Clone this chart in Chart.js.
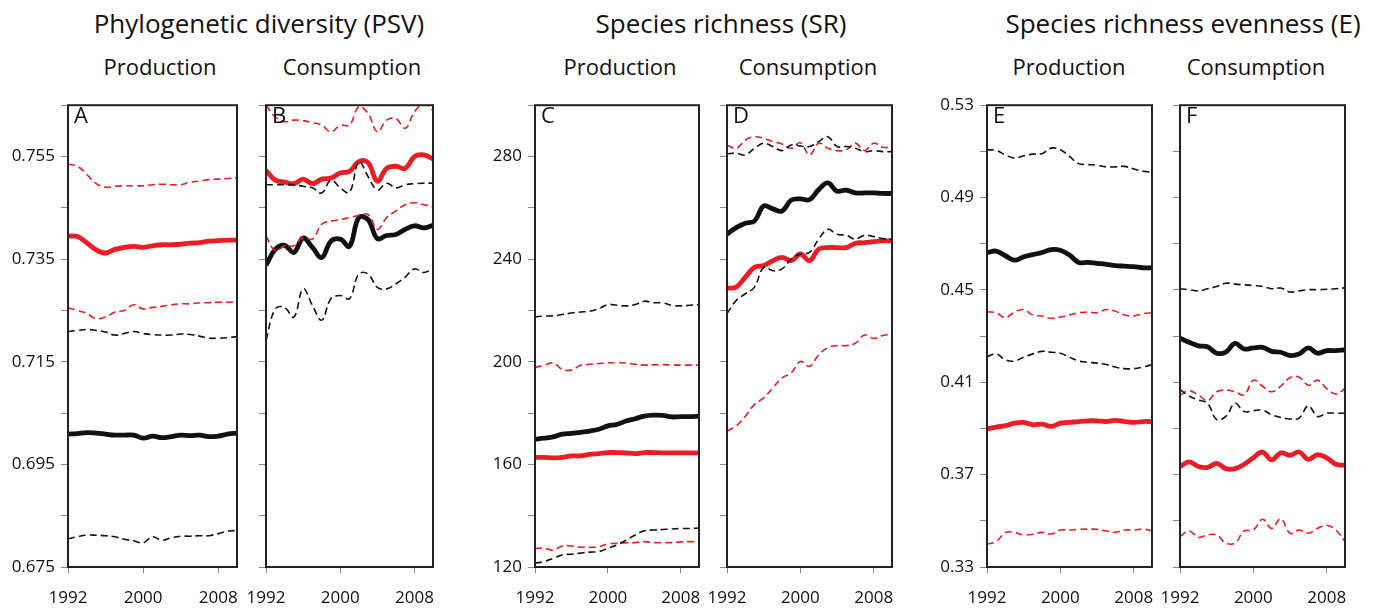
<!DOCTYPE html>
<html>
<head>
<meta charset="utf-8">
<script src="https://cdn.jsdelivr.net/npm/chart.js@4/dist/chart.umd.min.js"></script>
<style>
  body { margin: 0; background: #fff; font-family: "Open Sans", sans-serif; }
  #page { position: relative; width: 1374px; height: 608px; overflow: hidden; }
  .title, .sub { position: absolute; transform: translateX(-50%); white-space: nowrap; color: #111; }
  .title { font-size: 26px; top: 5px; }
  .sub { font-size: 22px; top: 51px; }
  .panel { position: absolute; }
</style>
</head>
<body>
<div id="page">
  <div class="title" style="left:259px">Phylogenetic diversity (PSV)</div>
  <div class="title" style="left:721px">Species richness (SR)</div>
  <div class="title" style="left:1183px">Species richness evenness (E)</div>
  <div class="sub" style="left:160px">Production</div>
  <div class="sub" style="left:352px">Consumption</div>
  <div class="sub" style="left:620px">Production</div>
  <div class="sub" style="left:808px">Consumption</div>
  <div class="sub" style="left:1069px">Production</div>
  <div class="sub" style="left:1256px">Consumption</div>
</div>
<script>
"use strict";

// --- data ---
const years = [1992, 1993, 1994, 1995, 1996, 1997, 1998, 1999, 2000, 2001, 2002, 2003, 2004, 2005, 2006, 2007, 2008, 2009, 2010];
const yearTicks = [1992, 2000, 2008];

const psvTicks = [0.675, 0.695, 0.715, 0.735, 0.755];
const srTicks = [120, 160, 200, 240, 280];
const eTicks = [0.33, 0.37, 0.41, 0.45, 0.49, 0.53];

// A - PSV production
const psvProdRedHi = [0.7535, 0.7531, 0.7515, 0.7497, 0.7490, 0.7492, 0.7493, 0.7493, 0.7493, 0.7495, 0.7496, 0.7495, 0.7495, 0.7500, 0.7502, 0.7505, 0.7506, 0.7507, 0.7508];
const psvProdRed = [0.7395, 0.7394, 0.7382, 0.7368, 0.7362, 0.7369, 0.7373, 0.7375, 0.7373, 0.7376, 0.7378, 0.7378, 0.7379, 0.7381, 0.7382, 0.7385, 0.7386, 0.7387, 0.7387];
const psvProdRedLo = [0.7255, 0.7250, 0.7244, 0.7234, 0.7237, 0.7247, 0.7250, 0.7261, 0.7253, 0.7256, 0.7258, 0.7261, 0.7263, 0.7263, 0.7265, 0.7265, 0.7266, 0.7266, 0.7266];
const psvProdBlackHi = [0.7209, 0.7211, 0.7213, 0.7211, 0.7208, 0.7202, 0.7205, 0.7209, 0.7205, 0.7203, 0.7202, 0.7202, 0.7204, 0.7203, 0.7200, 0.7196, 0.7196, 0.7197, 0.7199];
const psvProdBlack = [0.7009, 0.7010, 0.7012, 0.7011, 0.7009, 0.7007, 0.7007, 0.7007, 0.7001, 0.7005, 0.7002, 0.7004, 0.7007, 0.7006, 0.7007, 0.7004, 0.7005, 0.7009, 0.7011];
const psvProdBlackLo = [0.6805, 0.6809, 0.6812, 0.6812, 0.6811, 0.6809, 0.6804, 0.6801, 0.6797, 0.6809, 0.6802, 0.6807, 0.6810, 0.6810, 0.6811, 0.6811, 0.6815, 0.6820, 0.6821];

// B - PSV consumption
const psvConsRedHi = [0.7650, 0.7627, 0.7618, 0.7621, 0.7620, 0.7616, 0.7611, 0.7598, 0.7611, 0.7611, 0.7647, 0.7634, 0.7598, 0.7621, 0.7624, 0.7605, 0.7637, 0.7653, 0.7640];
const psvConsRed = [0.7523, 0.7504, 0.7500, 0.7497, 0.7506, 0.7497, 0.7506, 0.7508, 0.7518, 0.7521, 0.7540, 0.7538, 0.7502, 0.7527, 0.7531, 0.7527, 0.7550, 0.7553, 0.7545];
const psvConsBlackHi = [0.7495, 0.7495, 0.7495, 0.7495, 0.7492, 0.7489, 0.7479, 0.7504, 0.7489, 0.7480, 0.7540, 0.7511, 0.7485, 0.7498, 0.7489, 0.7495, 0.7497, 0.7498, 0.7498];
const psvConsRedLo = [0.7395, 0.7366, 0.7376, 0.7376, 0.7392, 0.7389, 0.7418, 0.7424, 0.7427, 0.7431, 0.7435, 0.7437, 0.7408, 0.7431, 0.7444, 0.7456, 0.7460, 0.7456, 0.7452];
const psvConsBlack = [0.7338, 0.7369, 0.7377, 0.7363, 0.7391, 0.7373, 0.7353, 0.7385, 0.7389, 0.7375, 0.7431, 0.7427, 0.7390, 0.7396, 0.7398, 0.7408, 0.7415, 0.7411, 0.7416];
const psvConsBlackLo = [0.7192, 0.7253, 0.7256, 0.7237, 0.7292, 0.7260, 0.7231, 0.7273, 0.7279, 0.7273, 0.7321, 0.7321, 0.7295, 0.7292, 0.7302, 0.7315, 0.7331, 0.7324, 0.7331];

// C - SR production
const srProdBlackHi = [217.5, 217.8, 217.9, 218.4, 219.0, 219.4, 219.7, 220.7, 222.3, 222.0, 221.8, 222.3, 223.6, 223.0, 223.0, 222.0, 221.8, 222.0, 222.3];
const srProdRedHi = [197.8, 198.6, 199.5, 197.0, 196.8, 198.6, 199.0, 199.3, 199.6, 199.6, 199.5, 199.0, 198.7, 198.8, 198.9, 198.7, 198.7, 198.7, 198.7];
const srProdBlack = [169.8, 170.2, 170.7, 171.8, 172.1, 172.5, 173.0, 173.7, 175.0, 175.6, 176.9, 177.8, 178.8, 179.2, 179.1, 178.5, 178.6, 178.6, 178.8];
const srProdRed = [162.7, 162.7, 162.5, 162.7, 163.3, 163.3, 163.9, 164.2, 164.6, 164.6, 164.5, 164.2, 164.6, 164.6, 164.5, 164.5, 164.5, 164.5, 164.5];
const srProdRedLo = [127.3, 127.3, 126.6, 128.2, 128.2, 127.7, 127.7, 127.9, 129.0, 129.2, 129.5, 129.5, 129.9, 129.5, 129.5, 129.5, 129.8, 129.9, 129.8];
const srProdBlackLo = [121.5, 122.1, 123.4, 124.7, 125.0, 125.4, 125.8, 126.0, 127.3, 128.6, 130.5, 132.5, 134.1, 134.4, 134.6, 134.8, 135.0, 135.0, 135.2];

// D - SR consumption
const srConsRedHi = [284.5, 283.2, 286.4, 287.7, 287.1, 285.8, 284.9, 283.2, 285.4, 280.6, 285.2, 283.2, 282.3, 282.6, 285.2, 282.3, 285.2, 283.6, 283.6];
const srConsBlackHi = [281.0, 281.3, 280.6, 283.2, 285.2, 283.9, 282.3, 284.5, 284.1, 283.9, 285.8, 287.7, 283.9, 283.9, 283.2, 281.9, 282.3, 281.9, 281.9];
const srConsBlack = [249.7, 252.3, 254.0, 254.9, 260.7, 259.6, 258.7, 263.0, 263.5, 263.2, 267.1, 269.7, 266.5, 266.9, 265.8, 265.8, 265.8, 265.6, 265.6];
const srConsRed = [228.7, 229.1, 233.0, 236.8, 237.5, 239.4, 240.7, 239.4, 242.0, 239.4, 243.9, 244.5, 244.5, 244.5, 246.2, 246.4, 246.8, 247.1, 247.1];
const srConsBlackLo = [218.8, 223.9, 226.5, 229.1, 236.8, 235.5, 236.2, 240.0, 242.0, 242.6, 247.8, 251.6, 249.7, 249.3, 247.8, 249.3, 248.8, 248.0, 247.8];
const srConsRedLo = [173.0, 175.0, 178.8, 183.4, 185.9, 189.8, 193.7, 195.6, 200.1, 198.2, 202.7, 205.5, 206.3, 206.3, 207.2, 210.4, 209.1, 210.2, 210.7];

// E - evenness production
const eProdBlackHi = [0.5107, 0.5104, 0.5085, 0.5071, 0.5081, 0.5088, 0.5090, 0.5114, 0.5107, 0.5078, 0.5047, 0.5043, 0.5040, 0.5033, 0.5033, 0.5035, 0.5024, 0.5014, 0.5010];
const eProdBlack = [0.4662, 0.4668, 0.4648, 0.4629, 0.4643, 0.4653, 0.4662, 0.4675, 0.4672, 0.4651, 0.4619, 0.4619, 0.4615, 0.4611, 0.4605, 0.4603, 0.4601, 0.4596, 0.4596];
const eProdRedHi = [0.4405, 0.4401, 0.4380, 0.4404, 0.4415, 0.4391, 0.4387, 0.4377, 0.4383, 0.4391, 0.4401, 0.4404, 0.4401, 0.4415, 0.4408, 0.4391, 0.4387, 0.4397, 0.4401];
const eProdBlackLo = [0.4211, 0.4223, 0.4197, 0.4192, 0.4209, 0.4223, 0.4234, 0.4230, 0.4226, 0.4209, 0.4192, 0.4187, 0.4183, 0.4177, 0.4166, 0.4159, 0.4159, 0.4166, 0.4176];
const eProdRed = [0.3898, 0.3906, 0.3912, 0.3923, 0.3926, 0.3916, 0.3919, 0.3909, 0.3923, 0.3926, 0.3930, 0.3933, 0.3933, 0.3930, 0.3935, 0.3930, 0.3926, 0.3930, 0.3930];
const eProdRedLo = [0.3399, 0.3410, 0.3449, 0.3450, 0.3439, 0.3442, 0.3450, 0.3443, 0.3460, 0.3460, 0.3463, 0.3464, 0.3463, 0.3456, 0.3450, 0.3460, 0.3460, 0.3464, 0.3457];

// F - evenness consumption
const eConsBlackHi = [0.4505, 0.4501, 0.4496, 0.4505, 0.4515, 0.4529, 0.4525, 0.4522, 0.4519, 0.4515, 0.4505, 0.4508, 0.4491, 0.4496, 0.4501, 0.4501, 0.4503, 0.4505, 0.4509];
const eConsBlack = [0.4291, 0.4273, 0.4258, 0.4254, 0.4226, 0.4231, 0.4268, 0.4244, 0.4249, 0.4251, 0.4234, 0.4230, 0.4216, 0.4223, 0.4249, 0.4226, 0.4237, 0.4237, 0.4241];
const eConsRedHi = [0.4045, 0.4063, 0.4045, 0.4020, 0.4059, 0.4066, 0.4059, 0.4045, 0.4109, 0.4083, 0.4059, 0.4083, 0.4120, 0.4122, 0.4087, 0.4109, 0.4073, 0.4049, 0.4073];
const eConsBlackLo = [0.4069, 0.4040, 0.4023, 0.4009, 0.3938, 0.3952, 0.4009, 0.3973, 0.3977, 0.3980, 0.3959, 0.3948, 0.3941, 0.3945, 0.3998, 0.3952, 0.3966, 0.3966, 0.3966];
const eConsRed = [0.3735, 0.3755, 0.3735, 0.3731, 0.3749, 0.3726, 0.3726, 0.3745, 0.3773, 0.3798, 0.3764, 0.3795, 0.3784, 0.3798, 0.3766, 0.3787, 0.3773, 0.3745, 0.3741];
const eConsRedLo = [0.3432, 0.3456, 0.3428, 0.3439, 0.3439, 0.3404, 0.3404, 0.3456, 0.3460, 0.3507, 0.3467, 0.3509, 0.3446, 0.3460, 0.3446, 0.3467, 0.3481, 0.3460, 0.3411];

// --- drawing ---
const RED = "#ec1c24";
const BLACK = "#111111";
const FONT = "'Open Sans', sans-serif";
const AXIS_W = 60, AXIS_H = 44, PAD_TOP = 12, PAD_RIGHT = 20;
const BOX_TOP = 101, BOX_BOTTOM = 567;

// frame round the plot area + panel letter
const boxPlugin = {
  id: "box",
  afterDraw: function (chart, args, opts) {
    const a = chart.chartArea;
    const ctx = chart.ctx;
    ctx.save();
    ctx.strokeStyle = "#222";
    ctx.lineWidth = 2;
    ctx.strokeRect(a.left, a.top, a.right - a.left, a.bottom - a.top);
    ctx.fillStyle = "#111";
    ctx.font = "22px " + FONT;
    ctx.textBaseline = "top";
    ctx.fillText(opts.letter, a.left + 6, a.top + 1);
    ctx.restore();
  }
};

function pts(vals) {
  return vals.map(function (v, i) { return { x: years[i], y: v }; });
}

function line(vals, color, thick) {
  return {
    data: pts(vals),
    borderColor: color,
    borderWidth: thick ? 4.8 : 1.6,
    borderDash: thick ? [] : [7, 4],
    pointRadius: 0,
    tension: 0.4,
    fill: false
  };
}

function makePanel(letter, boxLeft, boxRight, range, labelTicks, digits, showLabels, series) {
  const w = boxRight - boxLeft + AXIS_W + PAD_RIGHT;
  const h = PAD_TOP + (BOX_BOTTOM - BOX_TOP) + AXIS_H;
  const div = document.createElement("div");
  div.className = "panel";
  div.style.left = (boxLeft - AXIS_W) + "px";
  div.style.top = (BOX_TOP - PAD_TOP) + "px";
  const cv = document.createElement("canvas");
  cv.width = w;
  cv.height = h;
  div.appendChild(cv);
  document.getElementById("page").appendChild(div);

  const half = (labelTicks[1] - labelTicks[0]) / 2;
  const isLabel = function (v) {
    return labelTicks.some(function (t) { return Math.abs(t - v) < half / 10; });
  };

  const datasets = [
    line(series.blackHi, BLACK, false),
    line(series.blackLo, BLACK, false),
    line(series.redHi, RED, false),
    line(series.redLo, RED, false),
    line(series.black, BLACK, true),
    line(series.red, RED, true)
  ];

  new Chart(cv, {
    type: "line",
    data: { datasets: datasets },
    options: {
      responsive: false,
      animation: false,
      layout: { padding: { top: PAD_TOP, right: PAD_RIGHT, left: 0, bottom: 0 } },
      plugins: { legend: { display: false }, tooltip: { enabled: false }, box: { letter: letter } },
      scales: {
        x: {
          type: "linear",
          min: years[0],
          max: years[years.length - 1],
          afterBuildTicks: function (s) { s.ticks = yearTicks.map(function (v) { return { value: v }; }); },
          afterFit: function (s) { s.height = AXIS_H; },
          grid: { drawOnChartArea: false, drawTicks: true, tickLength: 6, color: "#888" },
          border: { display: false },
          ticks: {
            autoSkip: false, maxRotation: 0, padding: 15, color: "#111",
            font: { family: FONT, size: 17 },
            callback: function (v) { return String(v); }
          }
        },
        y: {
          min: range[0],
          max: range[1],
          afterBuildTicks: function (s) {
            const t = [];
            for (let v = range[0]; v <= range[1] + half / 10; v += half) t.push({ value: v });
            s.ticks = t;
          },
          afterFit: function (s) { s.width = AXIS_W; },
          grid: { drawOnChartArea: false, drawTicks: true, tickLength: 7, color: "#888" },
          border: { display: false },
          ticks: {
            autoSkip: false, padding: 6, color: "#111",
            font: { family: FONT, size: 17 },
            callback: function (v) {
              if (!showLabels || !isLabel(v)) return "";
              return v.toFixed(digits);
            }
          }
        }
      }
    },
    plugins: [boxPlugin]
  });
}

makePanel("A", 68, 237, [0.675, 0.765], psvTicks, 3, true, {
  black: psvProdBlack, blackHi: psvProdBlackHi, blackLo: psvProdBlackLo,
  red: psvProdRed, redHi: psvProdRedHi, redLo: psvProdRedLo
});
makePanel("B", 266, 433, [0.675, 0.765], psvTicks, 3, false, {
  black: psvConsBlack, blackHi: psvConsBlackHi, blackLo: psvConsBlackLo,
  red: psvConsRed, redHi: psvConsRedHi, redLo: psvConsRedLo
});
makePanel("C", 535, 699, [120, 300], srTicks, 0, true, {
  black: srProdBlack, blackHi: srProdBlackHi, blackLo: srProdBlackLo,
  red: srProdRed, redHi: srProdRedHi, redLo: srProdRedLo
});
makePanel("D", 727, 892, [120, 300], srTicks, 0, false, {
  black: srConsBlack, blackHi: srConsBlackHi, blackLo: srConsBlackLo,
  red: srConsRed, redHi: srConsRedHi, redLo: srConsRedLo
});
makePanel("E", 987, 1152, [0.33, 0.53], eTicks, 2, true, {
  black: eProdBlack, blackHi: eProdBlackHi, blackLo: eProdBlackLo,
  red: eProdRed, redHi: eProdRedHi, redLo: eProdRedLo
});
makePanel("F", 1180, 1345, [0.33, 0.53], eTicks, 2, false, {
  black: eConsBlack, blackHi: eConsBlackHi, blackLo: eConsBlackLo,
  red: eConsRed, redHi: eConsRedHi, redLo: eConsRedLo
});
</script>
</body>
</html>
